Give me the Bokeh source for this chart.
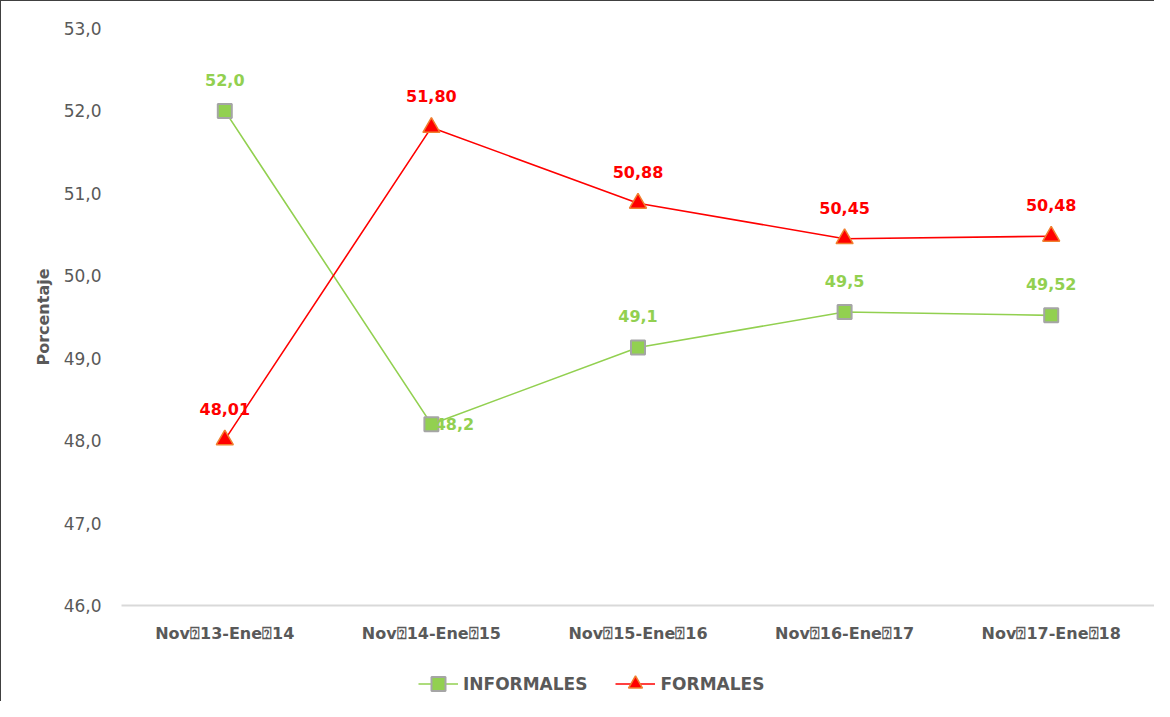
from bokeh.plotting import figure
from bokeh.layouts import column
from bokeh.models import (ColumnDataSource, FactorRange, Range1d, Legend, LegendItem,
                          CustomJSTickFormatter, FixedTicker)
from bokeh.core.properties import value
from bokeh.embed import file_html
from bokeh.resources import INLINE

# ---- data ----
categories = ["Nov\u237013-Ene\u237014", "Nov\u237014-Ene\u237015", "Nov\u237015-Ene\u237016",
              "Nov\u237016-Ene\u237017", "Nov\u237017-Ene\u237018"]
informales = [52.0, 48.2, 49.13, 49.56, 49.52]
formales = [48.01, 51.80, 50.88, 50.45, 50.48]
informales_labels = ["52,0", "48,2", "49,1", "49,5", "49,52"]
formales_labels = ["48,01", "51,80", "50,88", "50,45", "50,48"]
y_ticks = [46, 47, 48, 49, 50, 51, 52, 53]
series_names = ["INFORMALES", "FORMALES"]

# ---- styling ----
GREEN = "#92d050"
RED = "#ff0000"
GREY_TXT = "#595959"
FONT = "DejaVu Sans"
inf_dx = [0, 23, 0, 0, 0]
inf_dy = [-31, 0, -31, -31, -31]

INF_LINE = dict(line_color=GREEN, line_width=1.6)
INF_MARK = dict(marker="square", size=14, fill_color=GREEN, line_color="#a5a5a5", line_width=2)
FOR_LINE = dict(line_color=RED, line_width=1.6)
FOR_MARK = dict(marker="triangle", size=17, fill_color=RED, line_color="#f08030", line_width=1.5)

src_inf = ColumnDataSource(dict(x=categories, y=informales, lab=informales_labels,
                                dx=inf_dx, dy=inf_dy))
src_for = ColumnDataSource(dict(x=categories, y=formales, lab=formales_labels))

p = figure(width=1153, height=664, x_range=FactorRange(*categories, range_padding=0),
           y_range=Range1d(46, 53), output_backend="svg", toolbar_location=None,
           min_border_left=120, min_border_right=0, min_border_top=27, min_border_bottom=60)
p.outline_line_color = None
p.background_fill_color = "white"
p.border_fill_color = "white"
p.xgrid.grid_line_color = None
p.ygrid.grid_line_color = None

# y axis
p.yaxis.ticker = FixedTicker(ticks=y_ticks)
p.yaxis.formatter = CustomJSTickFormatter(code="return tick.toFixed(1).replace('.', ',');")
p.yaxis.axis_line_color = None
p.yaxis.major_tick_line_color = None
p.yaxis.minor_tick_line_color = None
p.yaxis.major_label_text_font = FONT
p.yaxis.major_label_text_font_size = "17px"
p.yaxis.major_label_text_color = GREY_TXT
p.yaxis.major_label_standoff = 14
p.yaxis.axis_label = "Porcentaje"
p.yaxis.axis_label_text_font = FONT
p.yaxis.axis_label_text_font_style = "bold"
p.yaxis.axis_label_text_font_size = "16px"
p.yaxis.axis_label_text_color = GREY_TXT
p.yaxis.axis_label_standoff = 8

# x axis
p.xaxis.axis_line_color = "#d9d9d9"
p.xaxis.axis_line_width = 2
p.xaxis.major_tick_line_color = None
p.xaxis.minor_tick_line_color = None
p.xaxis.major_label_text_font = FONT
p.xaxis.major_label_text_font_style = "bold"
p.xaxis.major_label_text_font_size = "16px"
p.xaxis.major_label_text_color = GREY_TXT
p.xaxis.major_label_standoff = 12

# series
p.line("x", "y", source=src_inf, **INF_LINE)
p.scatter("x", "y", source=src_inf, **INF_MARK)
p.line("x", "y", source=src_for, **FOR_LINE)
p.scatter("x", "y", source=src_for, **FOR_MARK)

p.text("x", "y", text="lab", source=src_inf, x_offset="dx", y_offset="dy",
       text_color=GREEN, text_font=value(FONT), text_font_style="bold",
       text_font_size="16px", text_align="center", text_baseline="middle")
p.text("x", "y", text="lab", source=src_for, y_offset=-31,
       text_color=RED, text_font=value(FONT), text_font_style="bold",
       text_font_size="16px", text_align="center", text_baseline="middle")

# legend strip below (own small figure; its series lie outside its view)
p2 = figure(width=1153, height=36, output_backend="svg", toolbar_location=None,
            x_range=FactorRange(*categories, range_padding=0), y_range=Range1d(0, 1),
            x_axis_type=None, y_axis_type=None,
            min_border_left=120, min_border_right=0, min_border_top=0, min_border_bottom=0)
p2.outline_line_color = None
p2.border_fill_color = "white"
p2.background_fill_color = "white"
li_l = p2.line("x", "y", source=src_inf, **INF_LINE)
li_m = p2.scatter("x", "y", source=src_inf, **INF_MARK)
lf_l = p2.line("x", "y", source=src_for, **FOR_LINE)
lf_m = p2.scatter("x", "y", source=src_for, **FOR_MARK)
legend = Legend(items=[LegendItem(label=series_names[0], renderers=[li_l, li_m]),
                       LegendItem(label=series_names[1], renderers=[lf_l, lf_m])],
                orientation="horizontal", location=(297, 0),
                label_text_font=FONT, label_text_font_style="bold",
                label_text_font_size="17px", label_text_color=GREY_TXT,
                glyph_width=40, glyph_height=35, label_standoff=5, spacing=28,
                border_line_color=None, background_fill_alpha=0, padding=0, margin=0)
p2.add_layout(legend, "center")

layout = column(p, p2, spacing=0,
                styles={"border-left": "1px solid #404040", "border-top": "1px solid #404040"})

open("out.html", "w").write(file_html(layout, INLINE))
